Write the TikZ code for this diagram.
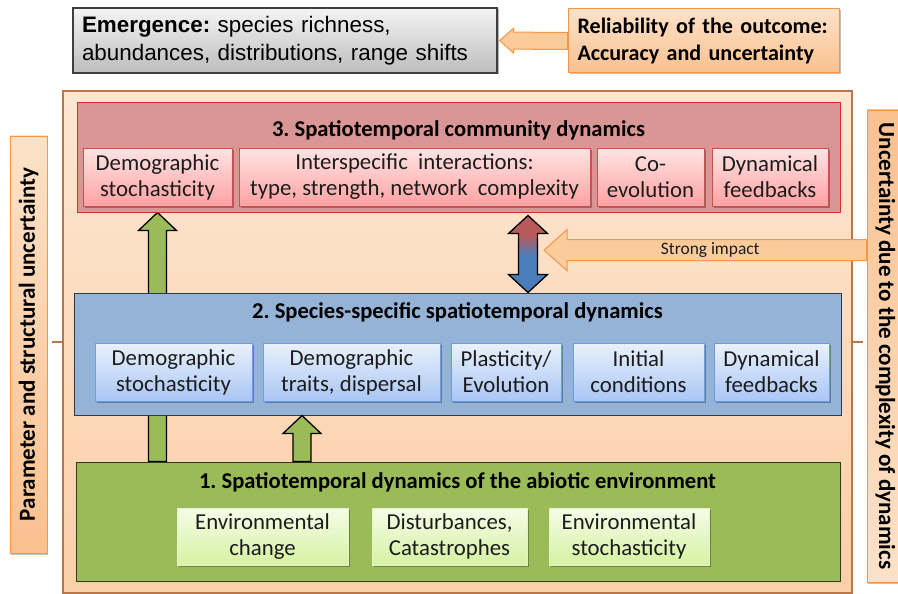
\documentclass[tikz,border=0pt]{standalone}
\usepackage{fontspec}
\setmainfont{Carlito}
\newfontfamily\arialf{Liberation Sans}
\usetikzlibrary{calc,shadows}
\pgfdeclarelayer{back}
\pgfdeclarelayer{mid}
\pgfsetlayers{back,mid,main}

% palette
\definecolor{peachtop}{HTML}{FDE6D2}
\definecolor{peachbot}{HTML}{FBCFA8}
\definecolor{brownb}{HTML}{B9774A}
\definecolor{redbox}{HTML}{D99694}
\definecolor{redline}{HTML}{E02B2B}
\definecolor{redtop}{HTML}{FFE4E4}
\definecolor{redbot}{HTML}{FFA2A2}
\definecolor{redsubline}{HTML}{C8504D}
\definecolor{bluebox}{HTML}{95B3D7}
\definecolor{blueline}{HTML}{2B3A4F}
\definecolor{bluetop}{HTML}{EAF1FD}
\definecolor{bluebot}{HTML}{A9C6F4}
\definecolor{bluesubline}{HTML}{6A9BE5}
\definecolor{greenbox}{HTML}{9BBB59}
\definecolor{greenline}{HTML}{2E3A1C}
\definecolor{greentop}{HTML}{F6FCE8}
\definecolor{greenbot}{HTML}{D5F2A2}
\definecolor{greensubline}{HTML}{E2F3C4}
\definecolor{orangeline}{HTML}{F79646}
\definecolor{orangefill}{HTML}{FBCB9C}
\definecolor{orangelight}{HTML}{FDE2C8}
\definecolor{orangedark}{HTML}{FAC08F}
\definecolor{arrowred}{HTML}{B8595A}
\definecolor{arrowblue}{HTML}{4A7EBB}
\definecolor{greytop}{HTML}{F4F4F4}
\definecolor{greybot}{HTML}{BDBDBD}
\definecolor{greyline}{HTML}{3F3F3F}
\definecolor{inktext}{HTML}{1C1C1C}

\pgfdeclareverticalshading{redblue}{100bp}{color(0bp)=(arrowblue); color(49bp)=(arrowblue); color(62bp)=(arrowred); color(100bp)=(arrowred)}

\newcommand\boxtextfont{\fontsize{22.8}{26}\selectfont}
\newcommand\layertitlefont{\fontsize{22.6}{26}\selectfont\bfseries}

% block arrow: style, base, tip, shaft half-width, head half-width, head length
\newcommand\blockarrow[6]{%
  \coordinate (ba-h) at ($(#3)!#6!(#2)$);
  \path[#1] ($(#2)!#4!90:(#3)$) -- ($(ba-h)!#4!90:(#3)$) -- ($(ba-h)!#5!90:(#3)$)
    -- (#3) -- ($(ba-h)!#5!-90:(#3)$) -- ($(ba-h)!#4!-90:(#3)$) -- ($(#2)!#4!-90:(#3)$) -- cycle;}
% two-headed block arrow: style, tip 1, tip 2, shaft half-width, head half-width, head length
\newcommand\blockdoublearrow[6]{%
  \coordinate (bd-a) at ($(#2)!#6!(#3)$);
  \coordinate (bd-b) at ($(#3)!#6!(#2)$);
  \path[#1] (#2) -- ($(bd-a)!#5!90:(#3)$) -- ($(bd-a)!#4!90:(#3)$) -- ($(bd-b)!#4!90:(#3)$)
    -- ($(bd-b)!#5!90:(#3)$) -- (#3) -- ($(bd-b)!#5!-90:(#3)$) -- ($(bd-b)!#4!-90:(#3)$)
    -- ($(bd-a)!#4!-90:(#3)$) -- ($(bd-a)!#5!-90:(#3)$) -- cycle;}

\tikzset{
  panel/.style={rectangle, inner sep=0pt},
  subbox/.style={rectangle, inner sep=0pt, minimum height=58pt, align=center,
    font=\boxtextfont, text=inktext, line width=0.9pt,
    drop shadow={shadow xshift=1.5pt, shadow yshift=-1.8pt, opacity=.3, fill=black}},
  redsub/.style={subbox, draw=redsubline, top color=redtop, bottom color=redbot},
  bluesub/.style={subbox, draw=bluesubline, top color=bluetop, bottom color=bluebot},
  greensub/.style={subbox, draw=greensubline, top color=greentop, bottom color=greenbot},
  layertitle/.style={inner sep=0pt, font=\layertitlefont, text=black},
  sidelabel/.style={rectangle, inner sep=0pt, draw=orangeline, line width=0.9pt,
    font=\fontsize{23}{26}\selectfont\bfseries,
    drop shadow={shadow xshift=1pt, shadow yshift=-1.5pt, opacity=.25, fill=black}},
  orangearrow/.style={fill=orangefill, draw=orangeline, line width=1pt, line join=miter},
  greenarrow/.style={fill=greenbox, draw=black, line width=1.3pt, line join=miter},
  linkarrow/.style={shade, shading=redblue, draw=black, line width=1.3pt, line join=miter},
  tick/.style={draw=brownb, line width=2.5pt},
}

\begin{document}
\frenchspacing
\begin{tikzpicture}[x=1pt, y=-1pt]
\useasboundingbox (0,0) rectangle (898,594);

% outcome and its reliability
\node[panel, draw=greyline, line width=1.3pt, top color=greytop, bottom color=greybot,
  minimum width=424pt, minimum height=65pt, text width=406pt, align=left,
  font=\arialf\fontsize{22.4}{27.5}\selectfont,
  drop shadow={shadow xshift=1.5pt, shadow yshift=-1.5pt, opacity=.3, fill=black}]
  (emerg) at (285,40.5) {\textbf{Emergence:} species richness,\\abundances, distributions, range shifts};
\node[panel, draw=orangeline, line width=1pt, top color=orangelight, bottom color=orangedark,
  minimum width=271pt, minimum height=64pt, text width=252pt, align=left,
  font=\fontsize{22.1}{27}\selectfont\bfseries,
  drop shadow={shadow xshift=1.5pt, shadow yshift=-1.5pt, opacity=.25, fill=black}]
  (relia) at (703.5,41) {Reliability of the outcome:\\Accuracy and uncertainty};

% frame around the three levels
\begin{pgfonlayer}{back}
\node[panel, draw=brownb, line width=2.5pt, top color=peachtop, bottom color=peachbot,
  minimum width=789pt, minimum height=502pt] (outer) at (457.5,342) {};
\end{pgfonlayer}

% level 3
\node[panel, draw=redline, line width=1pt, fill=redbox, minimum width=763pt, minimum height=109pt]
  (comm) at (458.5,157.5) {};
\node[layertitle] (commtitle) at (458.5,130) {3. Spatiotemporal community dynamics};
\node[redsub, minimum width=149pt] (r1) at (157.5,177) {Demographic\\stochasticity};
\node[redsub, minimum width=351pt] (r2) at (414.5,177) {Interspecific\ \ interactions:\\type, strength, network\ \ complexity};
\node[redsub, minimum width=107pt] (r3) at (650.5,177) {Co-\\evolution};
\node[redsub, minimum width=116pt] (r4) at (770,177) {Dynamical\\feedbacks};

% level 2
\node[panel, draw=blueline, line width=1pt, fill=bluebox, minimum width=767pt, minimum height=122pt]
  (spec) at (457.5,354) {};
\node[layertitle] (spectitle) at (457.5,312) {2. Species-specific spatiotemporal dynamics};
\node[bluesub, minimum width=157pt] (b1) at (173.5,372) {Demographic\\stochasticity};
\node[bluesub, minimum width=177pt] (b2) at (351.5,372) {Demographic\\traits, dispersal};
\node[bluesub, minimum width=110pt] (b3) at (506,372) {Plasticity/\\Evolution};
\node[bluesub, minimum width=131pt] (b4) at (638.5,372) {Initial\\conditions};
\node[bluesub, minimum width=115pt] (b5) at (771.5,372) {Dynamical\\feedbacks};

% level 1
\node[panel, draw=greenline, line width=1pt, fill=greenbox, minimum width=764pt, minimum height=119pt]
  (env) at (458,521.5) {};
\node[layertitle] (envtitle) at (457.5,482) {1. Spatiotemporal dynamics of the abiotic environment};
\node[greensub, minimum width=171pt, minimum height=57pt] (g1) at (262.5,536.5) {Environmental\\change};
\node[greensub, minimum width=155pt, minimum height=57pt] (g2) at (449.5,536.5) {Disturbances,\\Catastrophes};
\node[greensub, minimum width=160pt, minimum height=57pt] (g3) at (629,536.5) {Environmental\\stochasticity};

% side labels
\node[sidelabel, rotate=90, top color=orangelight, bottom color=orangedark,
  minimum width=417pt, minimum height=37pt] (leftlab) at (28.5,344.5) {Parameter and structural uncertainty};
\node[sidelabel, rotate=-90, top color=orangedark, bottom color=orangelight,
  minimum width=472pt, minimum height=37pt] (rightlab) at (885.5,346) {Uncertainty due to the complexity of dynamics};
\draw[tick, shorten >=5pt] (outer.west) -- (outer.west -| leftlab.south);
\draw[tick, shorten >=4pt] (outer.east) -- (outer.east -| rightlab.south);

% reliability feeds the outcome
\coordinate (reltip) at ($(emerg.east)+(2,0)$);
\blockarrow{orangearrow}{relia.west}{reltip}{8.5pt}{12.5pt}{14pt}

% level 1 drives level 3 (passing behind level 2)
\begin{pgfonlayer}{mid}
\coordinate (g1base) at (r1.south |- env.north);
\coordinate (g1tip) at (r1.south |- comm.south);
\blockarrow{greenarrow}{g1base}{g1tip}{9pt}{19pt}{18pt}
\end{pgfonlayer}

% level 1 drives level 2
\coordinate (g2base) at ($(env.north)+(-156,0)$);
\coordinate (g2tip) at (g2base |- spec.south);
\blockarrow{greenarrow}{g2base}{g2tip}{9pt}{19pt}{18pt}

% two-way coupling of levels 2 and 3
\coordinate (dtop) at ($(comm.south)+(69.5,3)$);
\coordinate (dbot) at (dtop |- spec.north);
\blockdoublearrow{linkarrow}{dtop}{dbot}{9.5pt}{19.5pt}{18pt}

% complexity strongly affects the coupling
\coordinate (sitip) at ($(dtop)!0.45!(dbot)+(16,0)$);
\coordinate (sibase) at (sitip -| rightlab.south);
\blockarrow{orangearrow}{sibase}{sitip}{10.5pt}{20.5pt}{23pt}
\node[inner sep=0pt, font=\fontsize{17.4}{19}\selectfont, text=inktext] (silabel)
  at ($(sibase)!0.5!(sitip)+(5,0)$) {Strong impact};

\end{tikzpicture}
\end{document}
